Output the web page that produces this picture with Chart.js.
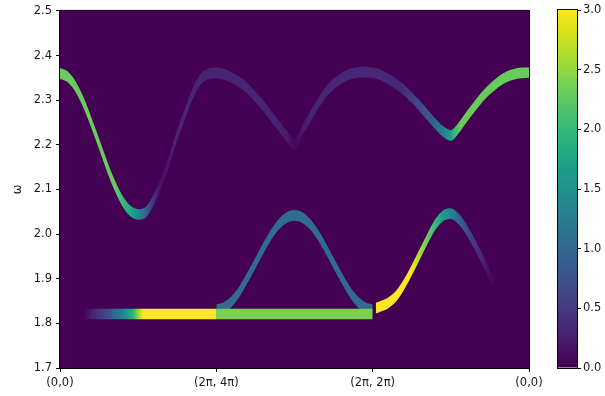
<!DOCTYPE html>
<html>
<head>
<meta charset="utf-8">
<script src="https://cdn.jsdelivr.net/npm/chart.js@4.4.1/dist/chart.umd.min.js"></script>
<style>
  html, body { margin: 0; padding: 0; background: #ffffff; }
  #wrap { position: relative; width: 605px; height: 396px; }
  #main { position: absolute; left: 0; top: 0; }
  #cbar { position: absolute; left: 540px; top: 0; }
</style>
</head>
<body>
<div id="wrap">
  <canvas id="main" width="605" height="396" style="width:605px;height:396px"></canvas>
  <canvas id="cbar" width="65" height="396" style="width:65px;height:396px"></canvas>
</div>
<script>
// ---- path positions along the Brillouin-zone cut and tick labels ----
const xTickLabels = ['(0,0)', '(2\u03c0, 4\u03c0)', '(2\u03c0, 2\u03c0)', '(0,0)'];
const omegaMin = 1.7, omegaMax = 2.5;
const weightMin = 0, weightMax = 3;

// vertical half-width of every spectral band (in omega)
const bandHalf = 0.012;

// upper branch: centre frequency along the path
const upperX = [0.00, 0.05, 0.10, 0.15, 0.20, 0.25, 0.30, 0.35, 0.40, 0.45,
                0.50, 0.55, 0.60, 0.65, 0.70, 0.75, 0.80, 0.85, 0.90, 0.95,
                1.00, 1.05, 1.10, 1.15, 1.20, 1.25, 1.30, 1.35, 1.40, 1.45,
                1.50, 1.55, 1.60, 1.65, 1.70, 1.75, 1.80, 1.85, 1.90, 1.95,
                2.00, 2.05, 2.10, 2.15, 2.20, 2.25, 2.30, 2.35, 2.40, 2.45,
                2.50, 2.55, 2.60, 2.65, 2.70, 2.75, 2.80, 2.85, 2.90, 2.95, 3.00];
const upperW = [2.360, 2.352, 2.330, 2.295, 2.250, 2.202, 2.153, 2.109, 2.074, 2.052,
                2.044, 2.049, 2.077, 2.118, 2.167, 2.222, 2.270, 2.316, 2.347, 2.359,
                2.361, 2.358, 2.350, 2.340, 2.326, 2.307, 2.288, 2.265, 2.242, 2.219,
                2.200, 2.233, 2.262, 2.292, 2.318, 2.336, 2.349, 2.358, 2.362, 2.363,
                2.361, 2.357, 2.347, 2.336, 2.323, 2.306, 2.287, 2.267, 2.247, 2.230,
                2.221, 2.238, 2.262, 2.285, 2.307, 2.325, 2.340, 2.351, 2.358, 2.361, 2.362];
// upper branch: spectral weight along the path
const upperWeightX = [0.00, 0.35, 0.39, 0.43, 0.48, 0.52, 0.56, 0.60, 0.64, 0.68, 0.74, 1.40, 1.46, 1.50, 1.54, 1.60,
                      2.18, 2.24, 2.30, 2.37, 2.43, 2.49, 2.52, 2.56, 3.00];
const upperWeight  = [2.3, 2.3, 2.1, 1.9, 1.6, 1.2, 0.8, 0.4, 0.15, 0.15, 0.3, 0.3, 0.2, 0.05, 0.15, 0.3,
                      0.35, 0.5, 0.65, 0.85, 1.15, 1.6, 2.0, 2.3, 2.3];

// flat branch
const flatX = [0.15, 2.00];
const flatW = [1.821, 1.821];
const flatWeightX = [0.15, 0.20, 0.26, 0.32, 0.38, 0.43, 0.47, 0.50, 0.53, 0.995, 1.0, 2.0];
const flatWeight  = [0.0, 0.25, 0.5, 0.8, 1.2, 1.6, 2.0, 2.5, 3.0, 3.0, 2.4, 2.4];

// middle dome between (2pi,4pi) and (2pi,2pi)
const domeX = [1.00, 1.05, 1.10, 1.15, 1.20, 1.25, 1.30, 1.35, 1.40, 1.45, 1.50,
               1.55, 1.60, 1.65, 1.70, 1.75, 1.80, 1.85, 1.90, 1.95, 2.00];
const domeW = [1.830, 1.836, 1.850, 1.873, 1.903, 1.935, 1.968, 1.998, 2.022, 2.037, 2.042,
               2.037, 2.022, 1.998, 1.968, 1.935, 1.903, 1.873, 1.850, 1.836, 1.830];
const domeWeightX = [1.0, 2.0];
const domeWeight  = [1.05, 1.05];

// rising branch after (2pi,2pi)
const riseX = [2.02, 2.05, 2.10, 2.15, 2.20, 2.25, 2.30, 2.35, 2.40, 2.45, 2.50, 2.55, 2.60, 2.65, 2.70, 2.75, 2.80];
const riseW = [1.834, 1.838, 1.846, 1.861, 1.887, 1.919, 1.954, 1.989, 2.021, 2.041, 2.046, 2.034, 2.010, 1.979, 1.945, 1.908, 1.870];
const riseWeightX = [2.02, 2.24, 2.28, 2.33, 2.37, 2.41, 2.45, 2.50, 2.56, 2.62, 2.69, 2.74, 2.78];
const riseWeight  = [3.0, 3.0, 2.75, 2.4, 2.2, 1.95, 1.65, 1.35, 0.9, 0.6, 0.35, 0.15, 0.0];

// ---- viridis colour map ----
const VIRIDIS = ['#440154', '#471164', '#482475', '#46337f', '#414487', '#3b528b', '#355f8d', '#2f6c8e', '#2a788e', '#25848e',
                 '#21918c', '#1e9b8a', '#22a884', '#2fb47c', '#44bf70', '#5ec962', '#7ad151', '#a0da39', '#bddf26', '#dfe318', '#fde725'];
const VIR_RGB = VIRIDIS.map(h => [parseInt(h.slice(1, 3), 16), parseInt(h.slice(3, 5), 16), parseInt(h.slice(5, 7), 16)]);
function viridis(t) {
  t = Math.max(0, Math.min(1, t));
  const f = t * (VIR_RGB.length - 1);
  const i = Math.min(VIR_RGB.length - 2, Math.floor(f));
  const u = f - i;
  const a = VIR_RGB[i], b = VIR_RGB[i + 1];
  const c = a.map((v, k) => Math.round(v + (b[k] - v) * u));
  return 'rgb(' + c.join(',') + ')';
}
function weightColor(v) { return viridis((v - weightMin) / (weightMax - weightMin)); }

// horizontal gradient that colours a band by its spectral weight
function bandFill(sx, sv) {
  return function (ctx) {
    const chart = ctx.chart;
    const area = chart.chartArea;
    const xs = chart.scales.x;
    if (!area || !xs) return weightColor(sv[0]);
    const w = area.right - area.left;
    const g = chart.ctx.createLinearGradient(area.left, 0, area.right, 0);
    for (let i = 0; i < sx.length; i++) {
      const last = i === sx.length - 1;
      const steps = last ? 1 : 8;
      for (let k = 0; k < steps; k++) {
        const f = k / steps;
        const x = last ? sx[i] : sx[i] + (sx[i + 1] - sx[i]) * f;
        const v = last ? sv[i] : sv[i] + (sv[i + 1] - sv[i]) * f;
        const off = (xs.getPixelForValue(x) - area.left) / w;
        g.addColorStop(Math.max(0, Math.min(1, off)), weightColor(v));
      }
    }
    return g;
  };
}

// a band = lower edge + upper edge, filled between them
function band(xArr, wArr, sx, sv, order) {
  const common = {
    pointRadius: 0, borderWidth: 0, borderColor: 'rgba(0,0,0,0)',
    cubicInterpolationMode: 'monotone', order: order
  };
  return [
    Object.assign({ data: xArr.map((x, i) => ({ x: x, y: wArr[i] - bandHalf })), fill: false }, common),
    Object.assign({ data: xArr.map((x, i) => ({ x: x, y: wArr[i] + bandHalf })), fill: '-1',
                    backgroundColor: bandFill(sx, sv) }, common)
  ];
}

const datasets = [].concat(
  band(domeX, domeW, domeWeightX, domeWeight, 4),
  band(flatX, flatW, flatWeightX, flatWeight, 3),
  band(riseX, riseW, riseWeightX, riseWeight, 2),
  band(upperX, upperW, upperWeightX, upperWeight, 1)
);

const plotBackground = {
  id: 'plotBackground',
  beforeDatasetsDraw(chart) {
    const { ctx, chartArea: a } = chart;
    ctx.save();
    ctx.fillStyle = weightColor(weightMin);
    ctx.fillRect(a.left, a.top, a.right - a.left, a.bottom - a.top);
    ctx.restore();
  }
};
const frame = {
  id: 'frame',
  afterDatasetsDraw(chart) {
    const { ctx, chartArea: a } = chart;
    ctx.save();
    ctx.strokeStyle = '#000';
    ctx.lineWidth = 1;
    ctx.strokeRect(a.left - 0.5, a.top - 0.5, a.right - a.left + 1, a.bottom - a.top + 1);
    ctx.restore();
  }
};

Chart.defaults.font.family = "'DejaVu Sans', sans-serif";
Chart.defaults.font.size = 11.5;
Chart.defaults.color = '#1a1a1a';

new Chart(document.getElementById('main'), {
  type: 'line',
  data: { datasets: datasets },
  options: {
    responsive: false,
    animation: false,
    devicePixelRatio: 1,
    layout: { padding: { left: 0, top: 10, right: 76, bottom: 0 } },
    plugins: { legend: { display: false }, tooltip: { enabled: false } },
    scales: {
      x: {
        type: 'linear', min: 0, max: xTickLabels.length - 1,
        ticks: { stepSize: 1, autoSkip: false, maxRotation: 0, padding: 4,
                 callback: (v) => xTickLabels[Math.round(v)] },
        grid: { drawOnChartArea: false, tickLength: 4, tickColor: '#000' },
        border: { display: false },
        afterFit(s) { s.height = 28; }
      },
      y: {
        type: 'linear', min: omegaMin, max: omegaMax,
        ticks: { stepSize: 0.1, padding: 4, callback: (v) => v.toFixed(1) },
        grid: { drawOnChartArea: false, tickLength: 4, tickColor: '#000' },
        border: { display: false },
        title: { display: true, text: '\u03c9', padding: { top: 11, bottom: 0 }, font: { size: 11.5 } },
        afterFit(s) { s.width = 60; }
      }
    }
  },
  plugins: [plotBackground, frame]
});

// ---- colour bar ----
function colorbarFill(ctx) {
  const chart = ctx.chart;
  const area = chart.chartArea;
  if (!area) return weightColor(weightMin);
  const g = chart.ctx.createLinearGradient(0, area.bottom, 0, area.top);
  for (let i = 0; i <= 60; i++) g.addColorStop(i / 60, viridis(i / 60));
  return g;
}

new Chart(document.getElementById('cbar'), {
  type: 'bar',
  data: {
    labels: [''],
    datasets: [{ data: [[weightMin, weightMax]], backgroundColor: colorbarFill, borderWidth: 0,
                 inflateAmount: 0, barPercentage: 1, categoryPercentage: 1 }]
  },
  options: {
    responsive: false,
    animation: false,
    devicePixelRatio: 1,
    layout: { padding: { left: 18, top: 10, right: 0, bottom: 28 } },
    plugins: { legend: { display: false }, tooltip: { enabled: false } },
    scales: {
      x: { display: false },
      y: {
        position: 'right', min: weightMin, max: weightMax,
        ticks: { stepSize: 0.5, padding: 2, callback: (v) => v.toFixed(1) },
        grid: { drawOnChartArea: false, tickLength: 4, tickColor: '#000' },
        border: { display: false },
        afterFit(s) { s.width = 28; }
      }
    }
  },
  plugins: [frame]
});
</script>
</body>
</html>
